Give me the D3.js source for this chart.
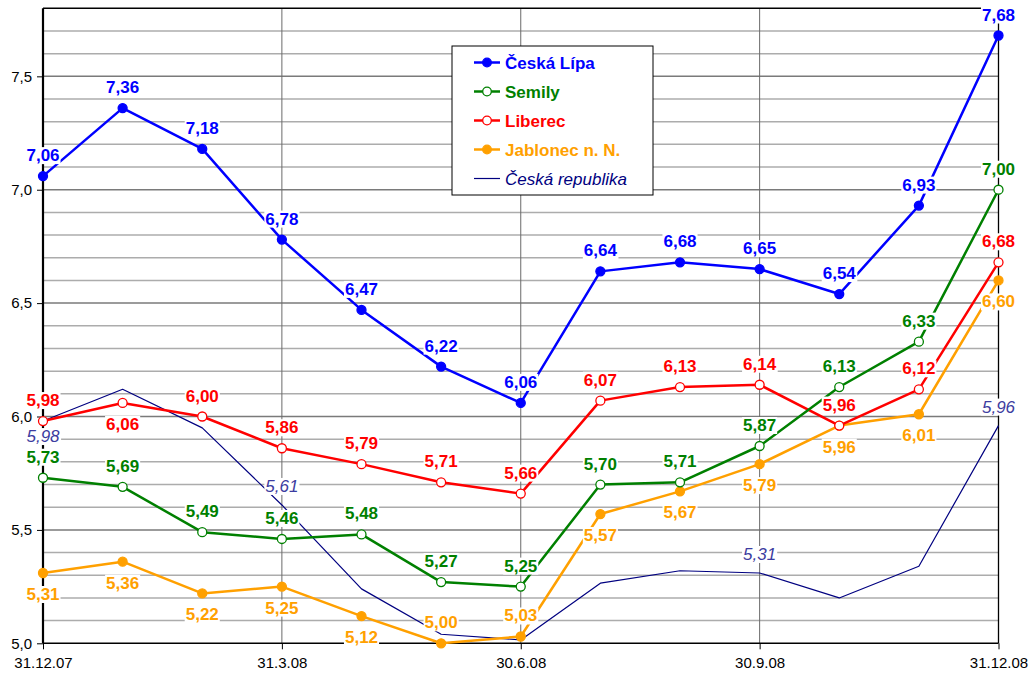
<!DOCTYPE html>
<html>
<head>
<meta charset="utf-8">
<script src="https://cdn.jsdelivr.net/npm/d3@7"></script>
<style>
  body { margin: 0; background: #fff; }
  text { font-family: "Liberation Sans", Arial, sans-serif; }
</style>
</head>
<body>
<div id="wrapper"></div>
<script>
// months 31.12.07 .. 31.12.08
const months = d3.range(13)
const tickIdx = [0, 3, 6, 9, 12]
const tickLabels = ["31.12.07", "31.3.08", "30.6.08", "30.9.08", "31.12.08"]
const yTicks = [5.0, 5.5, 6.0, 6.5, 7.0, 7.5]

const ceskaLipa = [7.06, 7.36, 7.18, 6.78, 6.47, 6.22, 6.06, 6.64, 6.68, 6.65, 6.54, 6.93, 7.68]
const semily    = [5.73, 5.69, 5.49, 5.46, 5.48, 5.27, 5.25, 5.70, 5.71, 5.87, 6.13, 6.33, 7.00]
const liberec   = [5.98, 6.06, 6.00, 5.86, 5.79, 5.71, 5.66, 6.07, 6.13, 6.14, 5.96, 6.12, 6.68]
const jablonec  = [5.31, 5.36, 5.22, 5.25, 5.12, 5.00, 5.03, 5.57, 5.67, 5.79, 5.96, 6.01, 6.60]
const cr        = [5.98, 6.12, 5.95, 5.61, 5.24, 5.04, 5.015, 5.265, 5.32, 5.31, 5.20, 5.34, 5.96]

// where the value labels sit: a = above, b = below, "" = none
const lipaPos     = "aaaaaaaaaaaaa".split("")
const semilyPos   = "aaaaaaaaaaaaa".split("")
const liberecPos  = "abaaaaaaaaaaa".split("")
const jablonecPos = "bbbbbaabbbbbb".split("")
const crPos       = ["b", "", "", "a", "", "", "", "", "", "a", "", "", "a"]

const series = [
    {name: "Česká Lípa", values: ceskaLipa, pos: lipaPos, color: "#0000ff", width: 2.5, marker: "fill"},
    {name: "Semily", values: semily, pos: semilyPos, color: "#008000", width: 2.5, marker: "open"},
    {name: "Liberec", values: liberec, pos: liberecPos, color: "#ff0000", width: 2.5, marker: "open"},
    {name: "Jablonec n. N.", values: jablonec, pos: jablonecPos, color: "#ffa000", width: 2.5, marker: "fill"},
    {name: "Česká republika", values: cr, pos: crPos, color: "#000080", width: 1.2, marker: "none",
        labelColor: "#3c3ca0", italic: true}
]

const W = 1029, H = 675
const x0 = 43, x1 = 998.5, yTop = 8.3, yBot = 643.3

const svg = d3.select("#wrapper").append("svg")
    .attr("width", W).attr("height", H)

const x = d3.scaleLinear().domain([0, 12]).range([x0, x1])
const y = d3.scaleLinear().domain([5.0, 7.8]).range([yBot, yTop])
const fmt = v => d3.format(".2f")(v).replace(".", ",")

// grid
const minor = d3.range(51, 78).map(d => d / 10)
svg.append("g").selectAll("line")
    .data(minor)
    .enter().append("line")
        .attr("x1", x0).attr("x2", x1)
        .attr("y1", d => y(d)).attr("y2", d => y(d))
        .attr("stroke", d => (Math.round(d * 10) % 5 == 0) ? "#7a7a7a" : "#acacac")
        .attr("stroke-width", 1.5)
svg.append("g").selectAll("line")
    .data([3, 6, 9])
    .enter().append("line")
        .attr("x1", d => x(d)).attr("x2", d => x(d))
        .attr("y1", yTop).attr("y2", yBot)
        .attr("stroke", "#6a6a6a")
        .attr("stroke-width", 1)

// frame top + right
svg.append("line").attr("x1", x0).attr("x2", x1).attr("y1", yTop).attr("y2", yTop)
    .attr("stroke", "#000").attr("stroke-width", 1.6)
svg.append("line").attr("x1", x1).attr("x2", x1).attr("y1", yTop).attr("y2", yBot)
    .attr("stroke", "#000").attr("stroke-width", 1.3)

// axes
const yAxis = svg.append("g")
    .attr("transform", `translate(${x0},0)`)
    .call(d3.axisLeft(y).tickValues(yTicks).tickFormat(d => d3.format(".1f")(d).replace(".", ",")).tickSize(6).tickPadding(5))
yAxis.select(".domain").attr("stroke-width", 2.2).attr("d", `M0,${yTop}V${yBot}`)
yAxis.selectAll(".tick text").attr("font-size", 15).attr("fill", "#000")
    .attr("font-family", "Liberation Sans, Arial, sans-serif")

const xAxis = svg.append("g")
    .attr("transform", `translate(0,${yBot})`)
    .call(d3.axisBottom(x).tickValues(tickIdx).tickFormat((d, i) => tickLabels[i]).tickSize(6).tickPadding(8))
xAxis.select(".domain").attr("stroke-width", 1.5).attr("d", `M${x0},0H${x1}`)
xAxis.selectAll(".tick text").attr("font-size", 15).attr("fill", "#000")
    .attr("font-family", "Liberation Sans, Arial, sans-serif")

// lines
const line = d3.line().x((d, i) => x(i)).y(d => y(d))
const plot = svg.append("g")
series.slice().reverse().forEach(function(s) {
    plot.append("path")
        .datum(s.values)
        .attr("d", line)
        .attr("fill", "none")
        .attr("stroke", s.color)
        .attr("stroke-width", s.width)
        .attr("stroke-linejoin", "round")
    if (s.marker != "none") {
        plot.selectAll(null)
            .data(s.values)
            .enter().append("circle")
                .attr("cx", (d, i) => x(i))
                .attr("cy", d => y(d))
                .attr("r", 4.5)
                .attr("fill", s.marker == "fill" ? s.color : "#fff")
                .attr("stroke", s.color)
                .attr("stroke-width", 1.3)
    }
})

// value labels with white boxes
const labels = svg.append("g")
series.forEach(function(s) {
    s.values.forEach(function(v, i) {
        const p = s.pos[i]
        if (!p) return
        const off = s.italic ? (p == "a" ? -19 : 15) : (p == "a" ? -21 : 21)
        const g = labels.append("g")
        const t = g.append("text")
            .attr("x", x(i))
            .attr("y", y(v) + off + 6)
            .attr("text-anchor", "middle")
            .attr("font-size", 17)
            .attr("font-weight", s.italic ? "normal" : "bold")
            .attr("font-style", s.italic ? "italic" : "normal")
            .attr("fill", s.labelColor || s.color)
            .text(fmt(v))
        const b = t.node().getBBox()
        g.insert("rect", "text")
            .attr("x", b.x - 1).attr("y", b.y + 1)
            .attr("width", b.width + 2).attr("height", b.height - 2)
            .attr("fill", "#fff")
    })
})

// legend
const lg = svg.append("g").attr("transform", "translate(452,46)")
lg.append("rect").attr("width", 201).attr("height", 149)
    .attr("fill", "#fff").attr("stroke", "#000").attr("stroke-width", 1)
series.forEach(function(s, i) {
    const yy = 16.5 + i * 29
    lg.append("line").attr("x1", 22).attr("x2", 48).attr("y1", yy).attr("y2", yy)
        .attr("stroke", s.color).attr("stroke-width", s.width)
    if (s.marker != "none") {
        lg.append("circle").attr("cx", 35).attr("cy", yy).attr("r", 4.3)
            .attr("fill", s.marker == "fill" ? s.color : "#fff")
            .attr("stroke", s.color).attr("stroke-width", 1.3)
    }
    lg.append("text").attr("x", 53).attr("y", yy + 6)
        .attr("font-size", 17)
        .attr("font-weight", s.italic ? "normal" : "bold")
        .attr("font-style", s.italic ? "italic" : "normal")
        .attr("fill", s.color)
        .text(s.name)
})
</script>
</body>
</html>
